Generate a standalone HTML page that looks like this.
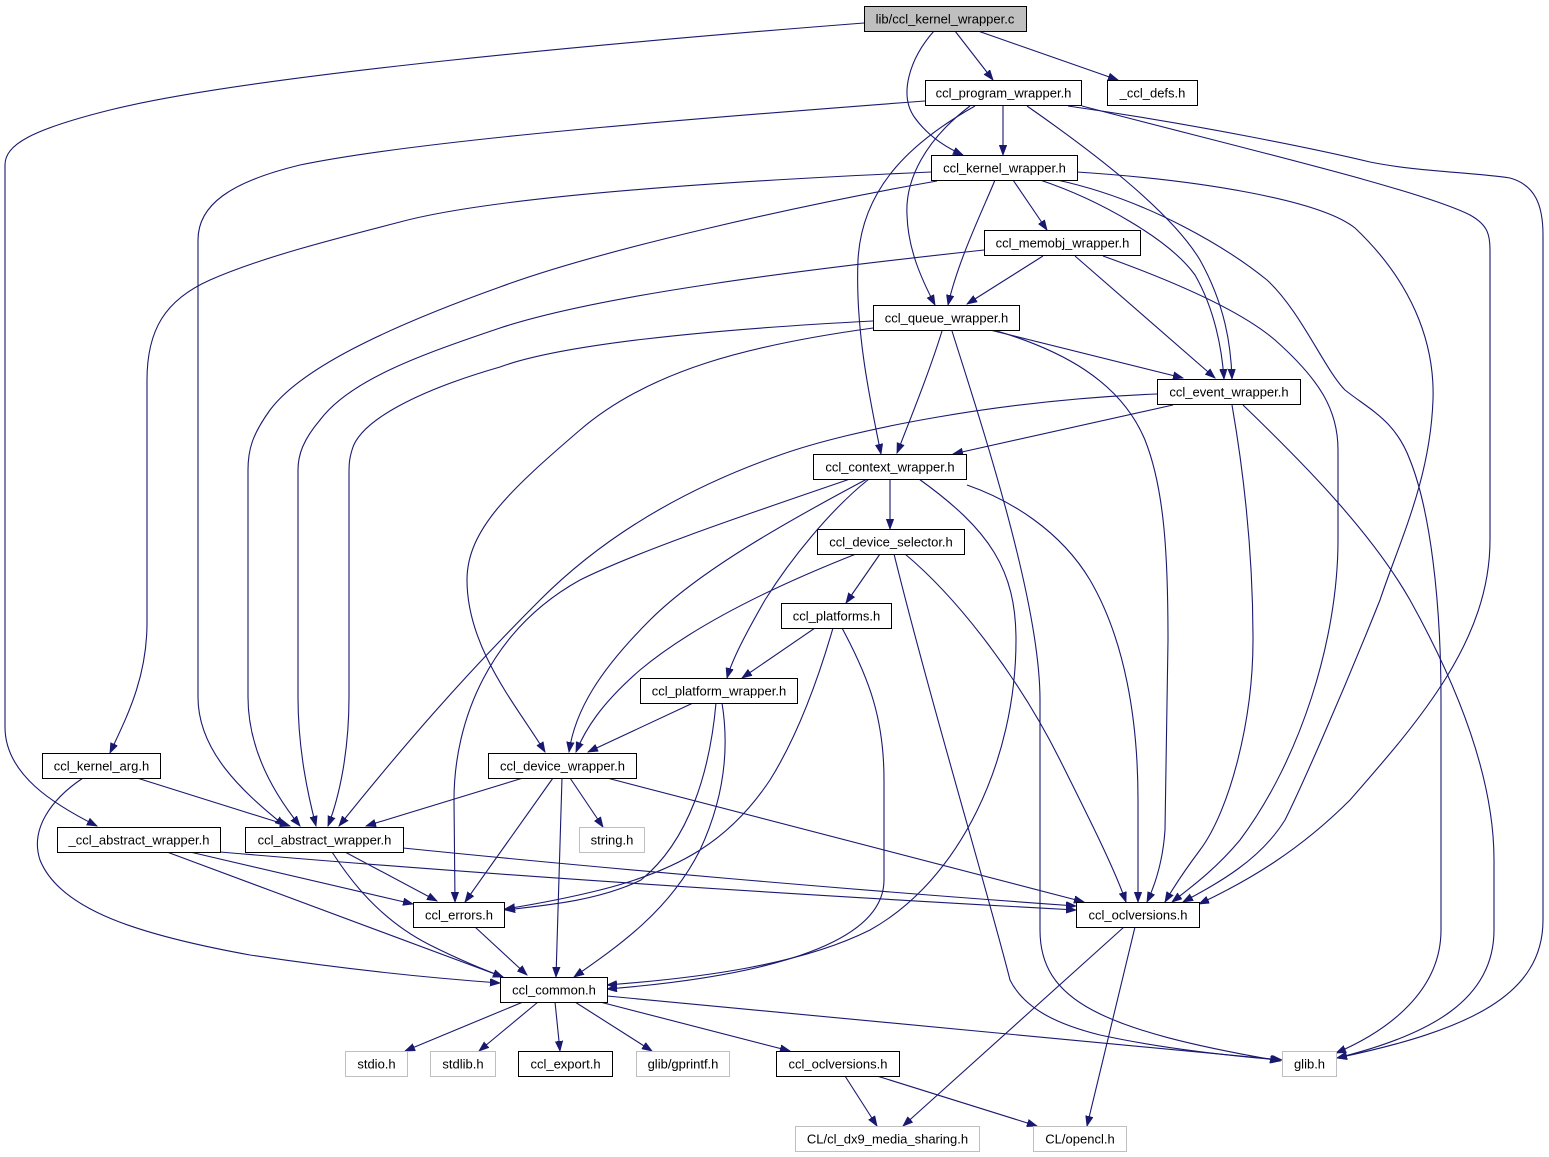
<!DOCTYPE html>
<html>
<head>
<meta charset="utf-8">
<style>
html,body{margin:0;padding:0;background:#fff;}
svg{display:block;}
text{font-family:"Liberation Sans",Arial,sans-serif;font-size:13px;fill:#000;}
</style>
</head>
<body>
<svg width="1549" height="1157" viewBox="0 0 1549 1157" xmlns="http://www.w3.org/2000/svg">
<defs>
<marker id="a" markerUnits="userSpaceOnUse" markerWidth="12" markerHeight="9" refX="10" refY="4" orient="auto">
<path d="M0,0.3 L10,4 L0,7.7 z" fill="#191970" stroke="#191970" stroke-width="0.8"/>
</marker>
</defs>
<g fill="none" stroke="#191970" stroke-width="1.1" marker-end="url(#a)">
<!-- root edges -->
<path d="M864,23 C620,42 250,75 110,110 C30,130 5,145 5,165 L5,727 C5,775 55,805 97,826"/>
<path d="M934,31 C910,58 898,95 915,118 C928,136 945,147 963,155"/>
<path d="M955,31 L993,80"/>
<path d="M978,31 L1118,80"/>
<!-- program wrapper -->
<path d="M1003,106 L1003,155"/>
<path d="M925,101 C700,118 420,140 300,165 C230,182 198,205 198,240 L198,697 C198,750 240,790 285,826"/>
<path d="M975,106 C915,140 862,185 858,260 C855,330 870,400 881,454"/>
<path d="M970,106 C925,140 905,180 907,215 C908,250 922,280 935,305"/>
<path d="M1027,106 C1090,150 1170,210 1200,260 C1225,305 1231,345 1232,379"/>
<path d="M1082,106 C1250,150 1420,190 1470,215 C1488,225 1490,235 1490,250 L1490,540 C1490,640 1420,720 1350,800 C1300,850 1250,880 1199,904"/>
<path d="M1068,106 C1200,125 1320,150 1370,162 C1420,172 1470,172 1510,178 C1535,185 1543,205 1543,235 L1543,920 C1543,995 1470,1030 1337,1058"/>
<!-- kernel wrapper -->
<path d="M931,172 C750,180 500,195 400,222 C330,240 260,258 210,280 C165,300 147,330 147,380 L147,623 C147,680 125,720 110,753"/>
<path d="M937,181 C800,205 600,250 500,287 C380,330 300,370 270,410 C252,435 248,450 248,470 L248,697 C248,750 275,795 300,826"/>
<path d="M1013,180 L1047,230"/>
<path d="M995,180 C985,205 958,260 948,305"/>
<path d="M1040,180 C1100,200 1170,240 1195,275 C1215,310 1222,350 1224,379"/>
<path d="M1077,172 C1200,180 1320,200 1355,228 C1410,280 1435,340 1433,400 C1430,480 1400,540 1380,600 C1340,700 1300,790 1285,820 C1260,860 1220,882 1183,902"/>
<path d="M1057,180 C1150,200 1230,250 1267,280 C1300,310 1325,370 1345,390 C1370,410 1395,420 1410,460 C1430,510 1441,600 1441,700 L1441,930 C1441,990 1390,1030 1336,1053"/>
<!-- memobj -->
<path d="M984,250 C800,270 600,295 500,328 C420,355 350,380 320,420 C303,440 298,455 298,470 L298,697 C298,750 308,795 316,826"/>
<path d="M1043,256 L967,304"/>
<path d="M1075,256 L1215,378"/>
<path d="M1103,256 C1170,280 1240,310 1275,340 C1320,380 1338,410 1338,450 L1338,540 C1338,640 1300,760 1240,840 C1215,870 1190,888 1172,902"/>
<!-- queue -->
<path d="M873,321 C700,330 560,345 500,367 C420,390 360,420 352,450 C349,460 349,465 349,475 L349,697 C349,750 340,795 328,826"/>
<path d="M873,328 C750,345 650,370 580,430 C510,490 467,530 467,580 C467,650 520,710 545,752"/>
<path d="M942,331 C930,370 910,420 897,453"/>
<path d="M952,331 C980,420 1040,600 1040,700 L1040,930 C1040,1000 1100,1030 1280,1061"/>
<path d="M990,330 L1183,378"/>
<path d="M997,331 C1060,350 1120,380 1145,440 C1165,490 1168,560 1168,640 L1165,830 C1163,860 1155,885 1147,902"/>
<!-- event -->
<path d="M1173,405 L953,454"/>
<path d="M1157,394 C1000,400 850,430 780,455 C680,490 600,540 540,600 C460,680 400,750 339,826"/>
<path d="M1232,405 C1245,480 1253,560 1253,640 C1253,720 1230,810 1200,850 C1185,870 1172,890 1165,902"/>
<path d="M1243,405 C1300,460 1370,530 1410,600 C1460,690 1494,780 1494,860 L1494,930 C1494,1000 1430,1035 1337,1058"/>
<!-- context -->
<path d="M890,479 L890,529"/>
<path d="M869,479 C830,510 790,560 765,600 C745,635 732,660 727,678"/>
<path d="M867,479 C790,520 700,570 650,620 C600,670 575,710 569,752"/>
<path d="M850,479 C760,510 640,550 580,580 C490,630 454,720 454,800 L455,902"/>
<path d="M919,479 C990,530 1016,570 1016,640 C1016,760 960,880 870,930 C800,965 700,978 607,985"/>
<path d="M967,485 C1010,500 1060,530 1090,580 C1125,640 1138,720 1138,800 L1138,902"/>
<!-- selector -->
<path d="M880,554 L846,603"/>
<path d="M856,554 C790,580 700,620 640,670 C600,705 585,730 576,752"/>
<path d="M894,554 C930,700 990,900 1010,980 C1025,1010 1060,1025 1100,1035 C1160,1048 1220,1055 1281,1060"/>
<path d="M905,554 C960,600 1020,680 1060,760 C1090,820 1115,870 1126,902"/>
<!-- platforms -->
<path d="M815,628 L742,678"/>
<path d="M833,628 C815,690 795,740 770,780 C730,840 680,870 600,890 C560,900 530,905 505,909"/>
<path d="M842,628 C870,680 884,720 884,780 L884,880 C884,940 780,975 607,989"/>
<!-- platform wrapper -->
<path d="M693,703 L588,752"/>
<path d="M716,703 C710,770 690,840 641,880 C600,900 550,905 505,910"/>
<path d="M722,703 C728,740 728,790 700,850 C670,910 620,945 574,977"/>
<!-- device wrapper -->
<path d="M570,778 L603,827"/>
<path d="M523,778 L366,826"/>
<path d="M553,778 L465,902"/>
<path d="M562,778 L556,977"/>
<path d="M607,778 L1084,902"/>
<!-- kernel arg -->
<path d="M137,778 L290,826"/>
<path d="M83,778 C50,800 30,830 40,860 C60,910 140,935 250,955 C350,970 430,978 500,983"/>
<!-- _abstract -->
<path d="M190,852 L413,904"/>
<path d="M167,852 L503,977"/>
<path d="M220,852 C500,876 800,895 1076,910"/>
<!-- abstract -->
<path d="M345,852 L437,901"/>
<path d="M332,852 C350,880 380,920 430,945 C460,960 480,968 503,977"/>
<path d="M403,848 C600,868 850,890 1076,906"/>
<!-- errors -->
<path d="M475,927 L527,975"/>
<!-- common -->
<path d="M523,1002 L405,1051"/>
<path d="M538,1002 L479,1051"/>
<path d="M555,1002 L560,1051"/>
<path d="M575,1002 L652,1051"/>
<path d="M600,1002 L790,1051"/>
<path d="M607,996 L1282,1060"/>
<!-- oclversions -->
<path d="M1124,927 L903,1126"/>
<path d="M1135,927 L1087,1126"/>
<path d="M845,1076 L877,1126"/>
<path d="M877,1076 L1037,1126"/>
</g>
<g stroke-width="1">
<rect x="864.5" y="6.5" width="162" height="25" fill="#bfbfbf" stroke="#000"/>
<rect x="925.5" y="80.5" width="156" height="25" fill="#fff" stroke="#000"/>
<rect x="1107.5" y="80.5" width="90" height="25" fill="#fff" stroke="#000"/>
<rect x="931.5" y="155.5" width="146" height="25" fill="#fff" stroke="#000"/>
<rect x="984.5" y="230.5" width="156" height="25" fill="#fff" stroke="#000"/>
<rect x="873.5" y="305.5" width="146" height="25" fill="#fff" stroke="#000"/>
<rect x="1157.5" y="379.5" width="143" height="25" fill="#fff" stroke="#000"/>
<rect x="813.5" y="454.5" width="153" height="25" fill="#fff" stroke="#000"/>
<rect x="817.5" y="529.5" width="147" height="25" fill="#fff" stroke="#000"/>
<rect x="781.5" y="603.5" width="110" height="25" fill="#fff" stroke="#000"/>
<rect x="640.5" y="678.5" width="157" height="25" fill="#fff" stroke="#000"/>
<rect x="488.5" y="753.5" width="148" height="25" fill="#fff" stroke="#000"/>
<rect x="42.5" y="753.5" width="118" height="25" fill="#fff" stroke="#000"/>
<rect x="57.5" y="827.5" width="163" height="25" fill="#fff" stroke="#000"/>
<rect x="245.5" y="827.5" width="158" height="25" fill="#fff" stroke="#000"/>
<rect x="579.5" y="827.5" width="65" height="25" fill="#fff" stroke="#bfbfbf"/>
<rect x="413.5" y="902.5" width="91" height="25" fill="#fff" stroke="#000"/>
<rect x="1076.5" y="902.5" width="123" height="25" fill="#fff" stroke="#000"/>
<rect x="500.5" y="977.5" width="107" height="25" fill="#fff" stroke="#000"/>
<rect x="345.5" y="1051.5" width="62" height="25" fill="#fff" stroke="#bfbfbf"/>
<rect x="430.5" y="1051.5" width="65" height="25" fill="#fff" stroke="#bfbfbf"/>
<rect x="518.5" y="1051.5" width="94" height="25" fill="#fff" stroke="#000"/>
<rect x="636.5" y="1051.5" width="93" height="25" fill="#fff" stroke="#bfbfbf"/>
<rect x="776.5" y="1051.5" width="123" height="25" fill="#fff" stroke="#000"/>
<rect x="1282.5" y="1051.5" width="54" height="25" fill="#fff" stroke="#bfbfbf"/>
<rect x="795.5" y="1126.5" width="184" height="25" fill="#fff" stroke="#bfbfbf"/>
<rect x="1033.5" y="1126.5" width="93" height="25" fill="#fff" stroke="#bfbfbf"/>
</g>
<g text-anchor="middle">
<text x="945" y="23.5">lib/ccl_kernel_wrapper.c</text>
<text x="1003.5" y="97.5">ccl_program_wrapper.h</text>
<text x="1152.5" y="97.5">_ccl_defs.h</text>
<text x="1004.5" y="172.5">ccl_kernel_wrapper.h</text>
<text x="1062.5" y="247.5">ccl_memobj_wrapper.h</text>
<text x="946.5" y="322.5">ccl_queue_wrapper.h</text>
<text x="1229" y="396.5">ccl_event_wrapper.h</text>
<text x="890" y="471.5">ccl_context_wrapper.h</text>
<text x="891" y="546.5">ccl_device_selector.h</text>
<text x="836.5" y="620.5">ccl_platforms.h</text>
<text x="719" y="695.5">ccl_platform_wrapper.h</text>
<text x="562.5" y="770.5">ccl_device_wrapper.h</text>
<text x="101.5" y="770.5">ccl_kernel_arg.h</text>
<text x="139" y="844.5">_ccl_abstract_wrapper.h</text>
<text x="324.5" y="844.5">ccl_abstract_wrapper.h</text>
<text x="612" y="844.5">string.h</text>
<text x="459" y="919.5">ccl_errors.h</text>
<text x="1138" y="919.5">ccl_oclversions.h</text>
<text x="554" y="994.5">ccl_common.h</text>
<text x="376.5" y="1068.5">stdio.h</text>
<text x="463" y="1068.5">stdlib.h</text>
<text x="565.5" y="1068.5">ccl_export.h</text>
<text x="683" y="1068.5">glib/gprintf.h</text>
<text x="838" y="1068.5">ccl_oclversions.h</text>
<text x="1309.5" y="1068.5">glib.h</text>
<text x="887.5" y="1143.5">CL/cl_dx9_media_sharing.h</text>
<text x="1080" y="1143.5">CL/opencl.h</text>
</g>
</svg>
</body>
</html>
